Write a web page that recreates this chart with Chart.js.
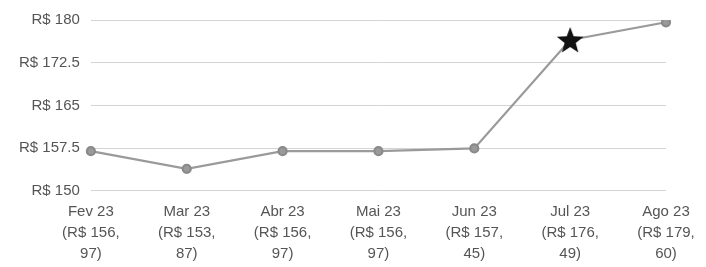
<!DOCTYPE html>
<html>
<head>
<meta charset="utf-8">
<script src="https://cdn.jsdelivr.net/npm/chart.js@4"></script>
<style>
html,body{margin:0;padding:0;background:#fff}
#wrap{width:706px;height:267px}
</style>
</head>
<body>
<div id="wrap"><canvas id="grafik"></canvas></div>
<script>
const meses=["Fev 23","Mar 23","Abr 23","Mai 23","Jun 23","Jul 23","Ago 23"]
const valores=[156.97,153.87,156.97,156.97,157.45,176.49,179.60]
const rotuloValor=["(R$ 156,|97)","(R$ 153,|87)","(R$ 156,|97)","(R$ 156,|97)","(R$ 157,|45)","(R$ 176,|49)","(R$ 179,|60)"]
const yTicks=[150,157.5,165,172.5,180]
const destaque=5

// filled five point star for the highlighted month
function estrela(r){
let c=document.createElement("canvas")
c.width=r*2
c.height=r*2
let ctx=c.getContext("2d")
ctx.fillStyle="#111"
ctx.beginPath()
for(let i=0;i<10;i++){
let rad=i%2==0?r:r*0.42
let a=-Math.PI/2+i*Math.PI/5
ctx.lineTo(r+rad*Math.cos(a),r+rad*Math.sin(a)+r*0.08)
}
ctx.closePath()
ctx.fill()
return c
}

const star=estrela(14)

const labels=meses.map((m,i)=>[m].concat(rotuloValor[i].split("|")))

new Chart(document.getElementById("grafik"),{
type:"line",
data:{
labels:labels,
datasets:[{
data:valores,
borderColor:"#9a9a9a",
borderWidth:2.2,
backgroundColor:"#9a9a9a",
pointBackgroundColor:"#9a9a9a",
pointBorderColor:"#8a8a8a",
pointRadius:valores.map((v,i)=>i==destaque?14:4),
pointStyle:valores.map((v,i)=>i==destaque?star:"circle"),
tension:0
}]
},
options:{
responsive:true,
maintainAspectRatio:false,
animation:false,
layout:{padding:{top:7,right:40,left:8,bottom:0}},
plugins:{legend:{display:false},tooltip:{enabled:false}},
scales:{
x:{
offset:false,
grid:{display:false},
border:{display:false},
ticks:{
color:"#555",
font:{family:"Liberation Sans, Arial",size:15,lineHeight:1.38},
maxRotation:0,
autoSkip:false,
padding:3
}
},
y:{
min:150,
max:180,
afterBuildTicks:ax=>{ax.ticks=yTicks.map(v=>({value:v}))},
grid:{color:"#d4d4d4",lineWidth:1,drawTicks:false},
border:{display:false},
ticks:{
color:"#555",
font:{family:"Liberation Sans, Arial",size:15},
padding:11,
callback:v=>"R$ "+v
}
}
}
}
})
</script>
</body>
</html>
